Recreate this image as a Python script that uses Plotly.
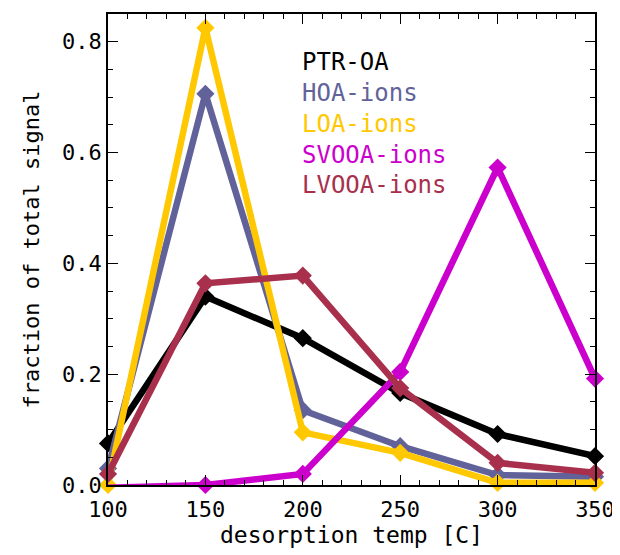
import plotly.graph_objects as go

temps = [100, 150, 200, 250, 300, 350]
ptr_oa = [0.075, 0.340, 0.265, 0.166, 0.092, 0.052]
hoa_ions = [0.030, 0.706, 0.135, 0.070, 0.018, 0.015]
loa_ions = [0.000, 0.825, 0.095, 0.058, 0.004, 0.004]
svooa_ions = [-0.005, 0.000, 0.020, 0.204, 0.573, 0.192]
lvooa_ions = [0.020, 0.364, 0.378, 0.175, 0.040, 0.022]

names = ["PTR-OA", "HOA-ions", "LOA-ions", "SVOOA-ions", "LVOOA-ions"]
series = [ptr_oa, hoa_ions, loa_ions, svooa_ions, lvooa_ions]
colors = ["#000000", "#62629a", "#ffc800", "#cc00cc", "#a8304c"]

x_ticks = [100, 150, 200, 250, 300, 350]
y_ticks = [0.0, 0.2, 0.4, 0.6, 0.8]
y_tick_text = ["0.0", "0.2", "0.4", "0.6", "0.8"]

font_family = "DejaVu Sans Mono"

fig = go.Figure()
for name, vals, col in zip(names, series, colors):
    fig.add_trace(go.Scatter(
        x=temps, y=vals, mode="lines+markers", name=name,
        line=dict(color=col, width=6.5),
        marker=dict(symbol="diamond", size=14, color=col),
        cliponaxis=False, showlegend=False,
    ))

# legend as colored text
for i, (name, col) in enumerate(zip(names, colors)):
    fig.add_annotation(
        x=0.395, y=0.898 - i * 0.0655, xref="paper", yref="paper",
        text=name, showarrow=False, xanchor="left", yanchor="middle",
        font=dict(family=font_family, size=24, color=col),
    )

axis_common = dict(
    showgrid=False, zeroline=False, showline=True, linecolor="black", linewidth=1.5,
    mirror="ticks", ticks="inside", ticklen=10, tickwidth=1.2, tickcolor="black",
    tickfont=dict(family=font_family, size=22, color="black"),
    automargin=False,
)

fig.update_layout(
    width=612, height=547,
    margin=dict(l=100, r=25, t=6, b=70),
    paper_bgcolor="white", plot_bgcolor="white",
    xaxis=dict(range=[100, 350], tickvals=x_ticks, ticklabelstandoff=4,
               minor=dict(ticks="inside", dtick=10, ticklen=5, tickcolor="black", tickwidth=1.2),
               title=dict(text="desorption temp [C]", standoff=4,
                          font=dict(family=font_family, size=23, color="black")),
               **axis_common),
    yaxis=dict(range=[0, 0.85], tickvals=y_ticks, ticktext=y_tick_text,
               minor=dict(ticks="inside", dtick=0.05, ticklen=5, tickcolor="black", tickwidth=1.2),
               title=dict(text="fraction of total signal", standoff=16,
                          font=dict(family=font_family, size=22, color="black")),
               **axis_common),
)

fig.write_html("out.html")
